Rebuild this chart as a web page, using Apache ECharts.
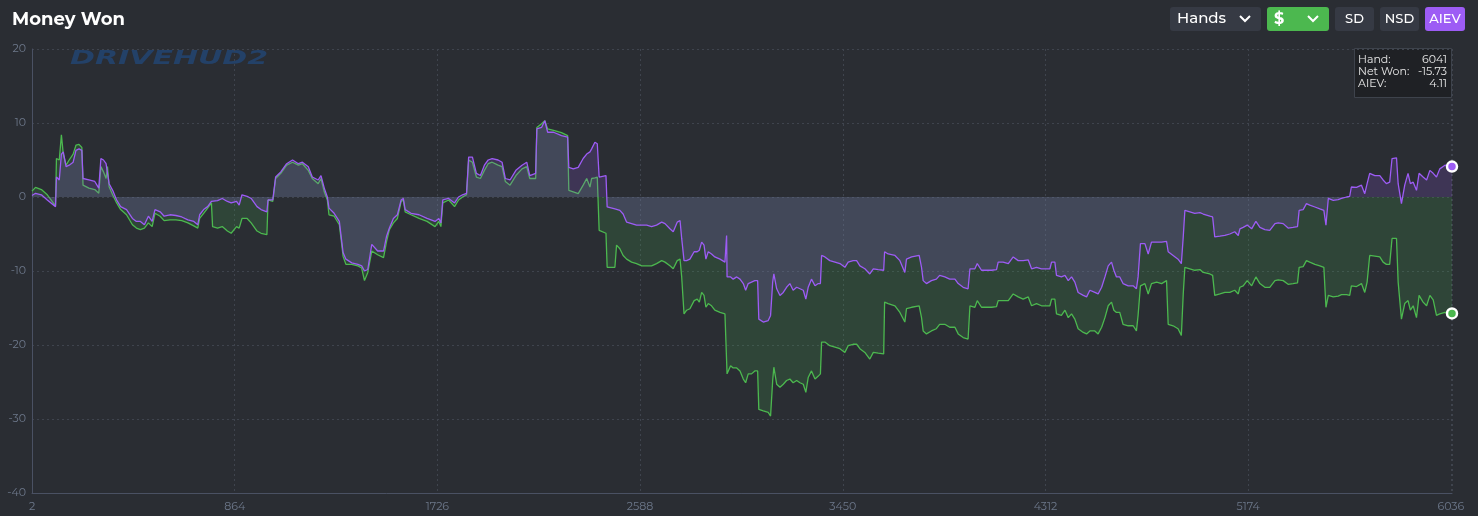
<!DOCTYPE html>
<html><head><meta charset="utf-8">
<script src="https://cdn.jsdelivr.net/npm/echarts@6/dist/echarts.min.js"></script>
<style>html,body{margin:0;padding:0;background:#2a2d33;}#c{width:1478px;height:516px;}</style>
</head><body><div id="c"></div>
<script>
// Hand numbers (x)
const hands = [
2,17,42,67,102,106,118,127,135,147,160,177,189,202,214,219,244,269,286,295,306,317,323,330,345,362,379,404,429,446,463,480,497,513,525,547,564,589,614,639,665,690,707,715,732,749,765,770,791,811,833,849,872,883,895,917,934,959,976,1001,1006,1026,1038,1060,1085,1110,1135,1152,1177,1194,1219,1231,1245,1258,1265,1287,1309,1325,1337,1362,1388,1404,1416,1430,1447,1472,1497,1510,1522,1539,1556,1572,1581,1589,1614,1648,1682,1716,1732,1741,1749,1774,1799,1816,1833,1850,1859,1875,1892,1909,1926,1942,1959,1984,2001,2015,2035,2060,2086,2106,2119,2144,2149,2169,2183,2195,2220,2254,2280,2285,2304,2325,2346,2361,2375,2382,2396,2406,2414,2443,2448,2481,2488,2502,2516,2531,2552,2573,2595,2616,2637,2658,2680,2694,2715,2729,2746,2758,2765,2775,2786,2800,2818,2831,2840,2850,2860,2868,2878,2892,2906,2928,2949,2956,2958,2973,2984,2999,3013,3027,3037,3048,3062,3076,3088,3093,3112,3133,3143,3152,3157,3169,3183,3197,3211,3225,3239,3254,3268,3282,3293,3303,3317,3332,3346,3355,3360,3374,3395,3417,3438,3459,3473,3494,3509,3523,3544,3565,3580,3601,3624,3628,3643,3672,3693,3714,3721,3743,3775,3785,3792,3806,3827,3848,3862,3884,3905,3927,3941,3962,3983,3991,4012,4022,4040,4062,4083,4104,4111,4132,4154,4175,4196,4217,4239,4253,4274,4295,4331,4338,4352,4359,4380,4395,4409,4423,4437,4451,4473,4487,4501,4522,4536,4551,4565,4579,4593,4603,4614,4628,4642,4664,4685,4699,4706,4716,4735,4749,4763,4785,4806,4827,4834,4855,4876,4890,4898,4905,4912,4926,4947,4969,4983,5011,5023,5032,5054,5075,5096,5117,5132,5139,5153,5170,5189,5207,5224,5245,5266,5288,5302,5323,5344,5365,5384,5391,5408,5422,5436,5458,5479,5496,5505,5515,5536,5557,5571,5593,5606,5613,5635,5656,5670,5680,5691,5713,5734,5748,5762,5776,5786,5805,5812,5826,5840,5854,5864,5876,5890,5901,5918,5933,5947,5961,5975,5989,6011,6041
];
// AIEV (purple)
const aiev = [
0.2,0.5,0.3,-0.4,-1.3,2.7,2.3,5.8,6.1,4.1,4.3,4.7,6.3,6.5,6.3,2.5,2.3,2.1,1.2,5.2,5.0,4.5,4.7,1.8,0.9,-0.4,-1.3,-1.7,-2.9,-3.3,-3.3,-3.75,-2.6,-3.3,-1.7,-2.0,-2.6,-2.4,-2.5,-2.7,-3.1,-3.3,-3.75,-2.4,-1.7,-1.3,-0.6,-0.6,-0.5,-0.2,-0.6,-0.8,-0.6,-1.1,0.3,0.1,-0.2,-1.3,-1.7,-2.0,-0.4,-0.4,2.7,3.4,4.5,5.0,4.5,4.7,4.1,2.7,2.3,2.9,1.2,0,-1.5,-2.2,-3.3,-7.5,-8.4,-8.9,-9.1,-9.3,-10.0,-9.8,-6.4,-7.3,-7.3,-5.3,-4.2,-2.9,-2.4,-0.4,-0.2,-1.7,-2.2,-2.4,-2.9,-3.3,-2.9,-3.5,-0.4,-0.2,-0.8,0,0.3,0.5,5.4,5.4,3.2,2.9,4.3,5.0,5.2,5.0,4.7,2.5,2.3,3.6,4.3,4.7,2.9,3.2,9.2,9.4,10.3,8.75,8.75,8.3,8.1,4.0,3.8,4.0,5.2,5.8,6.1,6.5,7.4,7.2,2.7,2.9,-1.35,-1.6,-1.8,-1.8,-2.3,-3.4,-3.6,-3.8,-3.8,-3.8,-4.0,-3.8,-3.4,-3.6,-4.3,-4.7,-3.4,-3.2,-5.6,-8.6,-8.6,-8.4,-7.4,-7.4,-7.2,-6.1,-6.5,-8.4,-7.4,-7.7,-8.1,-8.4,-8.8,-5.2,-10.8,-10.8,-11.1,-10.8,-11.1,-11.7,-12.6,-11.7,-11.5,-11.3,-11.3,-16.5,-16.9,-16.7,-16.0,-11.5,-10.4,-12.4,-13.3,-12.9,-12.2,-11.7,-12.6,-12.2,-12.4,-12.6,-13.8,-12.2,-11.1,-12.0,-11.7,-11.7,-7.9,-8.1,-8.6,-8.8,-9.0,-9.5,-8.8,-8.6,-8.6,-9.3,-9.7,-10.4,-9.7,-9.8,-9.9,-7.4,-7.7,-7.9,-8.6,-10.2,-8.4,-8.1,-7.9,-9.5,-11.3,-11.7,-11.3,-11.1,-10.6,-10.8,-11.1,-11.1,-11.7,-12.2,-12.4,-9.7,-9.7,-9.0,-9.9,-9.9,-9.9,-9.8,-8.8,-8.8,-9.0,-8.1,-8.6,-8.6,-8.5,-9.7,-9.5,-9.7,-9.7,-8.8,-8.8,-10.6,-10.8,-10.6,-11.3,-10.8,-11.5,-12.9,-13.3,-13.5,-12.6,-12.9,-13.1,-12.2,-10.8,-9.3,-8.8,-9.9,-10.8,-10.8,-11.7,-12.0,-12.0,-12.4,-10.8,-6.3,-6.3,-7.7,-6.1,-6.1,-6.1,-6.0,-7.4,-7.9,-8.4,-9.0,-5.4,-1.8,-1.6,-2.0,-2.2,-2.1,-2.3,-2.6,-2.7,-5.4,-5.3,-5.2,-5.0,-4.7,-5.2,-4.3,-4.1,-3.8,-4.3,-3.3,-4.1,-4.4,-4.5,-3.6,-3.5,-3.6,-4.2,-4.1,-4.0,-1.8,-1.7,-0.9,-1.1,-1.35,-1.6,-1.8,-3.8,-0.2,-0.45,-0.35,-0.2,0,0.1,1.35,1.3,1.6,0.45,1.8,3.2,2.9,2.9,2.3,1.8,2.0,5.2,5.3,1.8,-0.9,1.6,3.2,1.8,2.0,0.9,3.2,2.7,2.3,3.6,3.2,2.7,3.8,4.3,4.11
];
// Net Won (green)
const netWon = [
0.8,1.3,1.0,0.3,-1.2,5.2,5.0,8.4,5.8,4.3,5.0,5.8,7.0,7.1,6.7,1.6,1.2,1.0,0.5,4.1,3.4,2.5,4.1,1.4,0.3,-0.8,-1.7,-2.4,-3.75,-4.2,-4.4,-4.2,-3.5,-4.0,-2.2,-2.6,-3.2,-3.1,-3.1,-3.2,-3.5,-3.9,-4.2,-2.9,-2.2,-1.5,-0.8,-4.0,-4.2,-4.0,-4.6,-4.9,-4.0,-4.2,-2.9,-2.9,-3.5,-4.6,-4.9,-5.1,-0.4,-0.6,2.5,3.2,4.3,4.7,4.3,4.5,3.6,2.5,1.8,2.5,0.7,-0.4,-2.4,-2.6,-3.75,-8.0,-9.1,-9.1,-9.3,-9.6,-11.3,-10.2,-7.3,-7.8,-8.2,-6.0,-4.4,-3.5,-2.9,-0.6,-0.4,-2.0,-2.4,-2.9,-3.3,-4.0,-3.3,-4.0,-0.8,-0.4,-1.3,-0.4,0,0.3,5.0,4.7,2.7,2.5,3.6,4.5,4.7,4.3,4.1,2.1,1.6,2.9,3.8,4.1,2.5,2.5,9.4,9.9,10.3,9.2,9.0,8.7,8.3,0.9,0.7,0.45,1.6,2.5,1.35,2.5,2.6,2.7,-4.5,-4.9,-9.5,-9.5,-6.5,-7.0,-7.9,-8.4,-8.8,-9.0,-9.3,-9.3,-9.3,-9.0,-8.6,-8.8,-9.3,-9.7,-8.6,-8.4,-10.8,-15.8,-15.3,-15.1,-14.0,-13.8,-14.2,-12.9,-13.3,-14.9,-14.4,-14.7,-15.3,-15.6,-15.8,-15.8,-23.9,-22.8,-23.1,-23.1,-23.5,-24.6,-25.1,-23.9,-23.9,-23.5,-23.5,-28.7,-28.9,-29.1,-29.6,-24.8,-23.0,-25.3,-25.7,-25.3,-24.8,-24.6,-25.1,-24.8,-25.1,-25.3,-26.4,-24.4,-23.5,-24.6,-24.2,-23.9,-19.6,-19.6,-20.1,-20.3,-20.5,-21.0,-20.1,-19.9,-19.9,-20.5,-21.0,-21.9,-21.0,-21.1,-21.2,-14.2,-14.4,-14.7,-15.6,-16.9,-15.1,-14.9,-14.7,-16.3,-18.1,-18.5,-18.1,-17.8,-17.2,-17.2,-17.6,-17.6,-18.5,-19.0,-19.2,-14.7,-14.9,-14.0,-14.9,-14.9,-14.9,-14.8,-14.0,-14.0,-14.0,-13.1,-13.5,-13.8,-13.5,-14.7,-14.4,-14.7,-14.7,-13.8,-13.8,-15.8,-16.0,-15.3,-16.3,-15.8,-16.5,-17.8,-18.3,-18.5,-18.1,-18.1,-18.5,-17.6,-16.3,-14.7,-14.2,-15.3,-15.6,-15.6,-17.2,-17.4,-17.4,-18.1,-16.0,-12.0,-11.7,-13.1,-11.7,-11.5,-11.7,-11.3,-17.2,-17.4,-17.8,-18.7,-13.1,-9.5,-9.5,-9.7,-9.9,-9.8,-10.2,-10.4,-10.6,-13.3,-13.1,-12.9,-12.9,-12.6,-13.1,-12.2,-12.0,-11.3,-12.0,-10.8,-11.7,-12.2,-12.2,-11.3,-11.2,-11.3,-11.8,-11.7,-11.6,-9.5,-9.4,-8.6,-8.8,-9.1,-9.3,-9.5,-14.9,-13.3,-13.5,-13.4,-13.2,-13.2,-13.3,-12.0,-12.1,-11.7,-12.9,-11.5,-7.9,-8.0,-8.1,-8.8,-9.1,-9.1,-5.6,-5.6,-11.5,-16.5,-14.4,-14.0,-15.3,-14.7,-16.3,-13.3,-14.2,-14.7,-13.3,-13.9,-16.0,-15.8,-15.6,-15.73
];
const firstHand = 2;
const handStep = 862;
const yMin = -40, yMax = 20, yStep = 10;
const buttons = ['SD', 'NSD', 'AIEV'];
const tipRows = [['Hand:', '6041'], ['Net Won:', '-15.73'], ['AIEV:', '4.11']];

const GREEN = '#4cb84f', PURPLE = '#9d5cf5';
const AX = '#6d788b', GRID = '#3f444e';
const FONT = 'Montserrat, "DejaVu Sans", sans-serif';

const netData = hands.map((h, i) => [h - firstHand, netWon[i]]);
const aievData = hands.map((h, i) => [h - firstHand, aiev[i]]);
const lastX = hands[hands.length - 1] - firstHand;

function btn(x, w, label, bg) {
  return {
    type: 'group', left: x, top: 7,
    children: [
      { type: 'rect', shape: { x: 0, y: 0, width: w, height: 24, r: 3 }, style: { fill: bg } },
      { type: 'text', style: { x: w / 2, y: 12, text: label, fill: '#ffffff', font: '500 13px ' + FONT, align: 'center', verticalAlign: 'middle' } }
    ]
  };
}
function chevron(cx) {
  return { type: 'polyline', shape: { points: [[cx - 5, 16], [cx, 21], [cx + 5, 16]] }, style: { stroke: '#ffffff', lineWidth: 2, fill: null } };
}

const graphic = [
  { type: 'text', left: 70, top: 49, scaleX: 1.5, style: { text: 'DRIVEHUD2', fill: 'rgba(32,78,140,0.6)', font: 'italic 900 20px "DejaVu Sans", sans-serif' }, z: 0 },
  { type: 'rect', shape: { x: 1170, y: 7, width: 91, height: 24, r: 3 }, style: { fill: '#363a44' } },
  { type: 'text', style: { x: 1177, y: 19, text: 'Hands', fill: '#ffffff', font: '500 15px ' + FONT, verticalAlign: 'middle' } },
  chevron(1245),
  { type: 'rect', shape: { x: 1267, y: 7, width: 62, height: 24, r: 3 }, style: { fill: GREEN } },
  { type: 'text', style: { x: 1274, y: 19, text: '$', fill: '#ffffff', font: 'bold 16px ' + FONT, verticalAlign: 'middle' } },
  chevron(1313),
  btn(1335, 39, buttons[0], '#363a44'),
  btn(1380, 39, buttons[1], '#363a44'),
  btn(1425, 40, buttons[2], PURPLE),
  {
    type: 'group', left: 1354, top: 48, z: 100,
    children: [
      { type: 'rect', shape: { x: 0.5, y: 0.5, width: 97, height: 49 }, style: { fill: '#1f2125', stroke: '#3e434c', lineWidth: 1 } }
    ].concat(tipRows.flatMap((r, i) => [
      { type: 'text', style: { x: 4, y: 12 + i * 11.7, text: r[0], fill: '#e8e8e8', font: '11px ' + FONT, verticalAlign: 'middle' } },
      { type: 'text', style: { x: 93, y: 12 + i * 11.7, text: r[1], fill: '#e8e8e8', font: '11px ' + FONT, align: 'right', verticalAlign: 'middle' } }
    ]))
  }
];

const chart = echarts.init(document.getElementById('c'), null, { renderer: 'canvas' });
chart.setOption({
  backgroundColor: '#2a2d33',
  animation: false,
  title: { text: 'Money Won', left: 7, top: 6, textStyle: { color: '#ffffff', fontSize: 18, fontWeight: 'bold', fontFamily: FONT } },
  grid: { left: 32, right: 26, top: 49, bottom: 23, containLabel: false },
  xAxis: {
    type: 'value', min: 0, max: lastX, interval: handStep,
    axisLine: { show: true, onZero: false, lineStyle: { color: '#4a5163', width: 1 } },
    axisTick: { show: false },
    axisLabel: { color: AX, fontSize: 11, fontFamily: FONT, margin: 8, showMaxLabel: false, formatter: v => String(v + firstHand) },
    splitLine: { show: true, lineStyle: { color: GRID, type: [2, 3], width: 1 } }
  },
  yAxis: {
    type: 'value', min: yMin, max: yMax, interval: yStep,
    axisLine: { show: true, lineStyle: { color: '#4a5163', width: 1 } },
    axisTick: { show: false },
    axisLabel: { color: AX, fontSize: 11, fontFamily: FONT, margin: 6 },
    splitLine: { show: true, lineStyle: { color: GRID, type: [2, 3], width: 1 } }
  },
  series: [
    {
      name: 'Net Won', type: 'line', data: netData, showSymbol: false, z: 2,
      lineStyle: { color: GREEN, width: 1.3 },
      itemStyle: { color: GREEN },
      areaStyle: { color: 'rgba(76,184,80,0.25)', origin: 'auto' },
      markPoint: {
        symbol: 'circle', symbolSize: 10, label: { show: false }, animation: false,
        itemStyle: { color: GREEN, borderColor: '#ffffff', borderWidth: 2.5 },
        data: [{ coord: [lastX, netWon[netWon.length - 1]] }]
      }
    },
    {
      name: 'AIEV', type: 'line', data: aievData, showSymbol: false, z: 3,
      lineStyle: { color: PURPLE, width: 1.3 },
      itemStyle: { color: PURPLE },
      areaStyle: { color: 'rgba(157,92,245,0.25)', origin: 'auto' },
      markPoint: {
        symbol: 'circle', symbolSize: 10, label: { show: false }, animation: false,
        itemStyle: { color: PURPLE, borderColor: '#ffffff', borderWidth: 2.5 },
        data: [{ coord: [lastX, aiev[aiev.length - 1]] }]
      }
    }
  ],
  graphic: graphic
});
</script></body></html>
